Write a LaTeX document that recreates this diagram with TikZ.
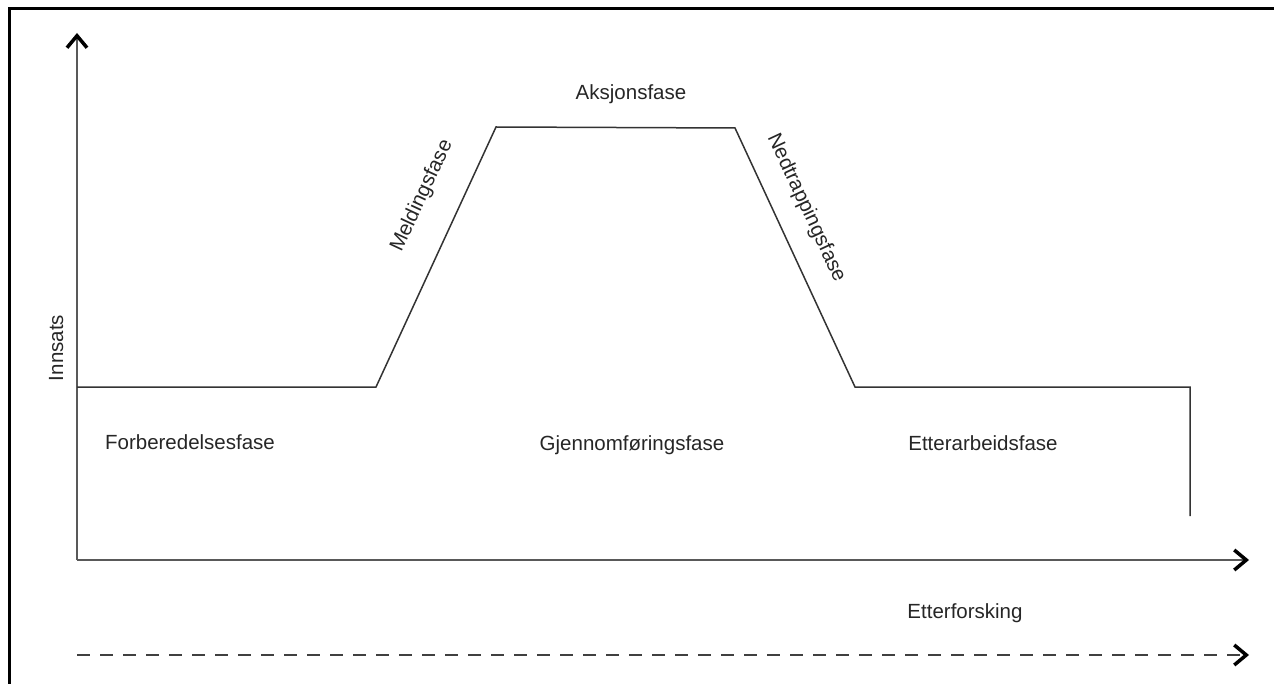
\documentclass[tikz,border=0pt]{standalone}
\usepackage{fontspec}
\setmainfont{Liberation Sans}
\usetikzlibrary{arrows.meta}

\begin{document}
\begin{tikzpicture}[x=1pt, y=-1pt, >={Straight Barb[length=12pt, width=20pt, line width=3.5pt, black]},
  lbl/.style={text=black!85, font=\fontsize{20.5}{24}\selectfont, inner sep=0pt},
  axis/.style={line width=2pt, draw=black!65},
  phase/.style={line width=1.5pt, draw=black!80}]

\useasboundingbox (0,0) rectangle (1274,684);
\draw[line width=3pt] (9,684) -- (9,9) -- (1274,9);

\coordinate (O) at (77,560);
\coordinate (Ytop) at (77,33);
\coordinate (Xend) at (1249,560);
\coordinate (Dstart) at (77,655);
\coordinate (Dend) at (1249,655);

\coordinate (P1) at (77,387);
\coordinate (P2) at (376,387);
\coordinate (P3) at (496,127);
\coordinate (P4) at (735,128);
\coordinate (P5) at (855,387);
\coordinate (P6) at (1190,387);
\coordinate (P7) at (1190,516);

\draw[axis, ->] (O) -- (Ytop);
\draw[axis, ->] (O) -- (Xend);
\draw[axis, draw=black!75, dash pattern=on 13pt off 10pt, ->] (Dstart) -- (Dend);
\draw[phase] (P1) -- (P2) -- (P3) -- (P4) -- (P5) -- (P6) -- (P7);

\node[lbl, rotate=90, anchor=base] (innsats) at (63,348) {Innsats};
\node[lbl, anchor=base] (forb) at (190,449) {Forberedelsesfase};
\node[lbl, anchor=base] (gjen) at (632,450) {Gjennomføringsfase};
\node[lbl, anchor=base] (etter) at (983,450) {Etterarbeidsfase};
\node[lbl, anchor=base] (aksjon) at (631,100) {Aksjonsfase};
\node[lbl, anchor=base] (forsk) at (965,618) {Etterforsking};
\node[lbl, rotate=65] (meld) at (422,196) {Meldingsfase};
\node[lbl, rotate=-65] (ned) at (806,208) {Nedtrappingsfase};

\end{tikzpicture}
\end{document}
